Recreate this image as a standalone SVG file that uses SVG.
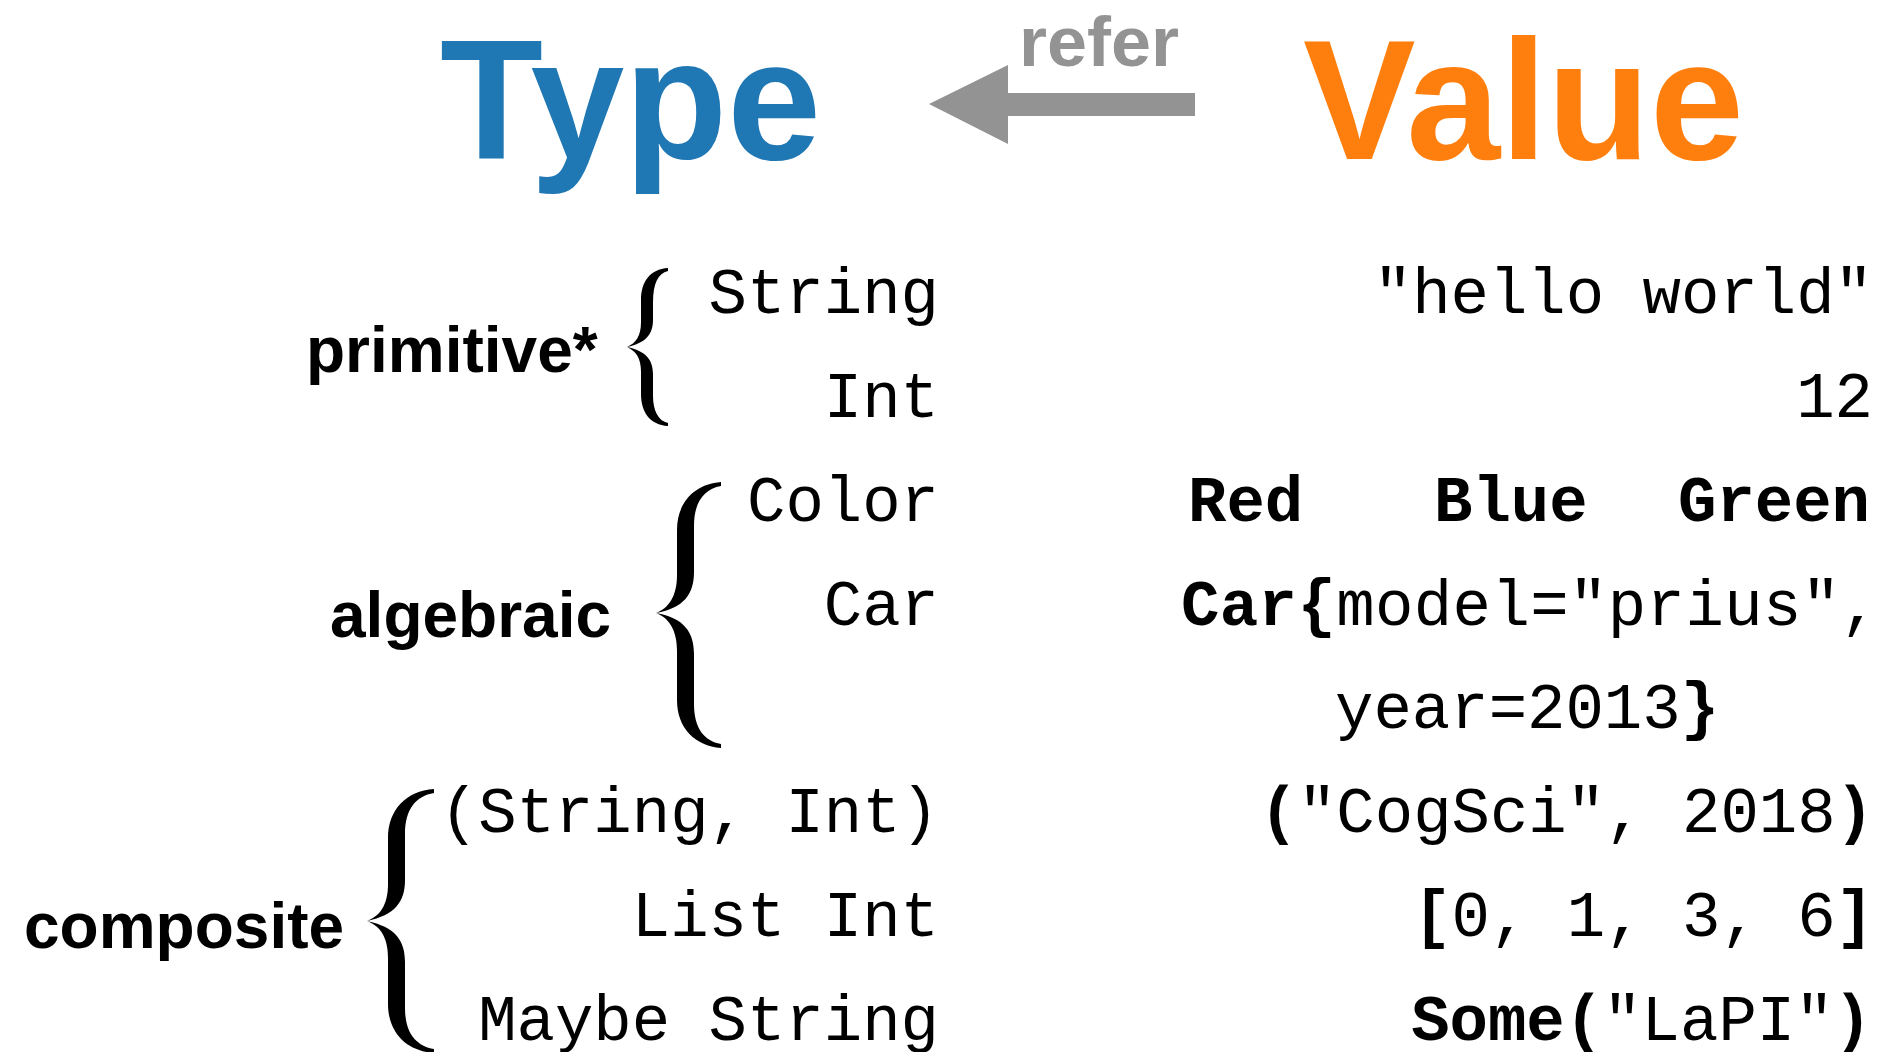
<svg xmlns="http://www.w3.org/2000/svg" width="1880" height="1052" viewBox="0 0 1880 1052">
  <style>
    .title { font-family: "Liberation Sans", Arial, Helvetica, sans-serif; font-weight: bold; }
    .label { font-family: "Liberation Sans", Arial, Helvetica, sans-serif; font-weight: bold; font-size: 64px; fill: #000; }
    .mono { font-family: "Liberation Mono", "Courier New", monospace; font-size: 64px; fill: #000; }
    .type { text-anchor: end; }
    .val { text-anchor: end; }
    .b { font-weight: bold; }
    .brace { fill: #000; stroke: none; }
  </style>

  <rect x="0" y="0" width="1880" height="1052" fill="#ffffff"/>

  <!-- Header -->
  <g id="type-title">
    <text class="title" x="440" y="159" font-size="170" fill="#1f77b4" textLength="381" lengthAdjust="spacingAndGlyphs">Type</text>
  </g>
  <g id="value-title">
    <text class="title" x="1303" y="159" font-size="170" fill="#ff7f0e" textLength="441" lengthAdjust="spacingAndGlyphs">Value</text>
  </g>

  <!-- Connectors -->
  <g id="connectors">
    <polygon points="929,104 1008,65 1008,93 1195,93 1195,116 1008,116 1008,144" fill="#939393"/>
    <text class="title" x="1019" y="66" font-size="71" fill="#939393" textLength="160" lengthAdjust="spacingAndGlyphs">refer</text>
  </g>

  <!-- primitive -->
  <g id="primitive">
    <text class="label" x="306" y="372">primitive*</text>
    <path class="brace" d="M 668,268 C 650,269 641,282 641,300 L 641,322 C 641,336 636,343 627,347 C 636,351 641,358 641,372 L 641,394 C 641,412 650,425 668,426 L 668,423 C 658,421 653,410 653,396 L 653,374 C 653,360 646,351 627,347 C 646,343 653,334 653,320 L 653,302 C 653,284 658,273 668,271 Z"/>
    <g id="type-string"><text class="mono type" x="939" y="313">String</text></g>
    <g id="type-int"><text class="mono type" x="939" y="417">Int</text></g>
    <g id="val-string"><text class="mono val" x="1873" y="313">"hello world"</text></g>
    <g id="val-int"><text class="mono val" x="1873" y="417">12</text></g>
  </g>

  <!-- algebraic -->
  <g id="algebraic">
    <text class="label" x="330" y="637">algebraic</text>
    <path class="brace" d="M 721,482 C 695,484 677,502 677,530 L 677,575 C 677,596 669,608 656,613 C 669,618 677,630 677,651 L 677,700 C 677,728 695,746 721,748 L 721,744 C 704,741 694,728 694,704 L 694,654 C 694,632 684,618 656,613 C 684,608 694,594 694,572 L 694,526 C 694,502 704,489 721,486 Z"/>
    <g id="type-color"><text class="mono type" x="939" y="521">Color</text></g>
    <g id="type-car"><text class="mono type" x="939" y="625">Car</text></g>
    <g id="val-color">
      <text class="mono b" x="1188" y="521">Red</text>
      <text class="mono b" x="1434" y="521">Blue</text>
      <text class="mono b" x="1870" y="521" text-anchor="end">Green</text>
    </g>
    <g id="val-car">
      <text class="mono" x="1181" y="625" textLength="698" lengthAdjust="spacing"><tspan class="b">Car{</tspan>model="prius",</text>
      <text class="mono" x="1335" y="728">year=2013<tspan class="b">}</tspan></text>
    </g>
  </g>

  <!-- composite -->
  <g id="composite">
    <text class="label" x="24" y="948">composite</text>
    <path class="brace" d="M 434,789 C 406,791 388,810 388,838 L 388,884 C 388,905 380,916 367,921 C 380,926 388,937 388,958 L 388,1004 C 388,1032 406,1051 434,1053 L 434,1049 C 416,1046 405,1033 405,1008 L 405,962 C 405,940 395,927 367,921 C 395,915 405,902 405,880 L 405,834 C 405,809 416,796 434,793 Z"/>
    <g id="type-tuple"><text class="mono type" x="939" y="832">(String, Int)</text></g>
    <g id="type-list"><text class="mono type" x="939" y="936">List Int</text></g>
    <g id="type-maybe"><text class="mono type" x="939" y="1040">Maybe String</text></g>
    <g id="val-tuple"><text class="mono val" x="1874" y="832"><tspan class="b">(</tspan>"CogSci", 2018<tspan class="b">)</tspan></text></g>
    <g id="val-list"><text class="mono val" x="1874" y="936"><tspan class="b">[</tspan>0, 1, 3, 6<tspan class="b">]</tspan></text></g>
    <g id="val-maybe"><text class="mono val" x="1872" y="1040"><tspan class="b">Some(</tspan>"LaPI"<tspan class="b">)</tspan></text></g>
  </g>
</svg>
